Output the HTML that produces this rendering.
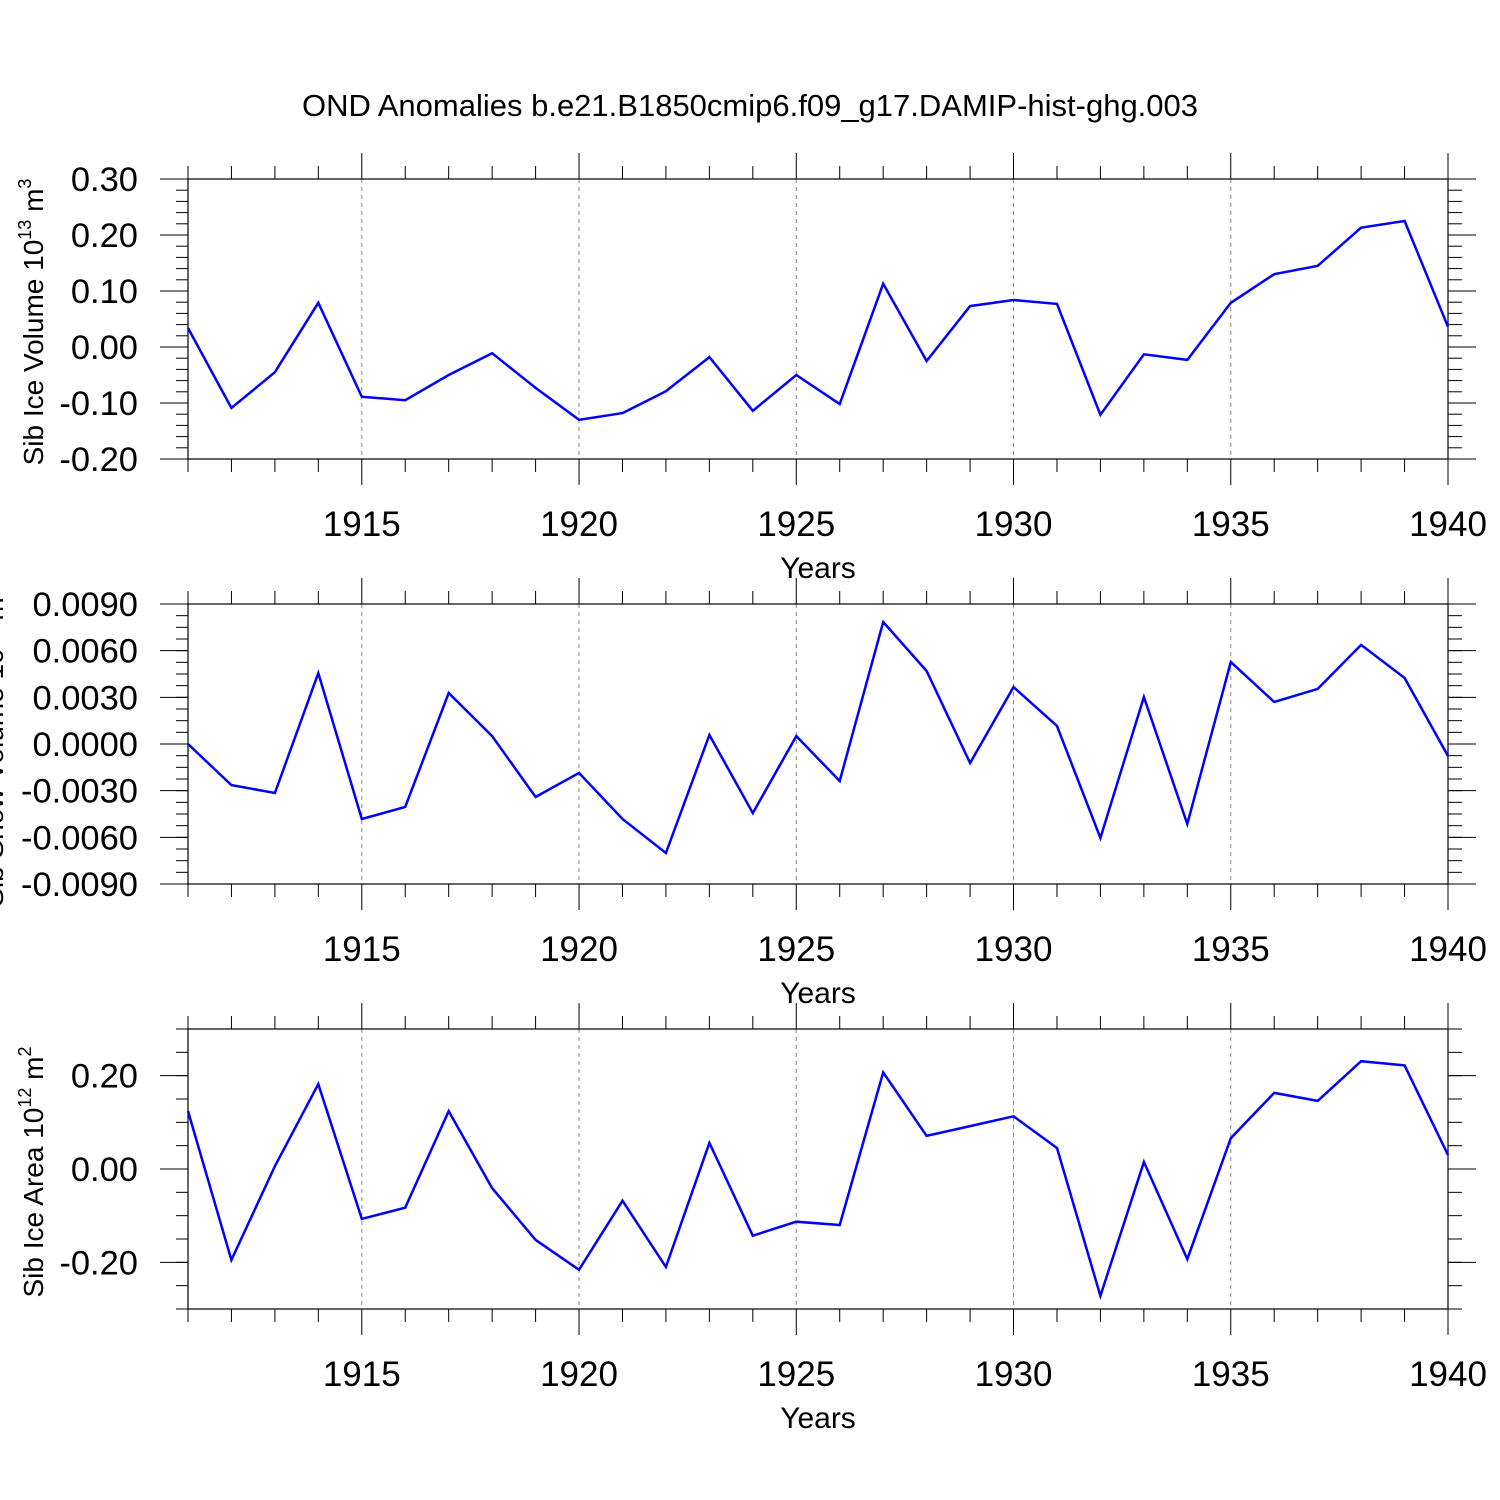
<!DOCTYPE html>
<html><head><meta charset="utf-8"><style>
html,body{margin:0;padding:0;background:#fff;}
svg{display:block;font-family:"Liberation Sans",Arial,sans-serif;}
</style></head><body>
<svg id="chart" width="1500" height="1500" viewBox="0 0 1500 1500" xmlns="http://www.w3.org/2000/svg">
<text x="750" y="116" text-anchor="middle" font-size="31">OND Anomalies b.e21.B1850cmip6.f09_g17.DAMIP-hist-ghg.003</text>
</svg>
<script>
const years = [1911,1912,1913,1914,1915,1916,1917,1918,1919,1920,1921,1922,1923,1924,1925,1926,1927,1928,1929,1930,1931,1932,1933,1934,1935,1936,1937,1938,1939,1940];
const iceVolume = [0.034,-0.109,-0.045,0.079,-0.089,-0.095,-0.05,-0.011,-0.073,-0.13,-0.118,-0.079,-0.018,-0.114,-0.05,-0.102,0.113,-0.025,0.073,0.084,0.077,-0.121,-0.013,-0.023,0.079,0.13,0.145,0.213,0.225,0.036];
const snowVolume = [0,-0.00264,-0.00315,0.00456,-0.00482,-0.00405,0.00328,0.00051,-0.00341,-0.00186,-0.00482,-0.00701,0.00058,-0.00444,0.00051,-0.00238,0.00784,0.00469,-0.00122,0.00366,0.00116,-0.00604,0.00302,-0.00514,0.00527,0.0027,0.00354,0.00637,0.00424,-0.00077];
const iceArea = [0.124,-0.195,0.006,0.182,-0.107,-0.083,0.124,-0.041,-0.152,-0.216,-0.068,-0.21,0.056,-0.143,-0.113,-0.12,0.207,0.071,0.092,0.113,0.045,-0.272,0.015,-0.193,0.066,0.163,0.146,0.231,0.222,0.03];
const xTickLabels = [1915,1920,1925,1930,1935,1940];
const yTicks1 = [0.30,0.20,0.10,0.00,-0.10,-0.20];
const yTicks2 = [0.009,0.006,0.003,0,-0.003,-0.006,-0.009];
const yTicks3 = [0.20,0.00,-0.20];

const svg = document.getElementById('chart');
const NS = 'http://www.w3.org/2000/svg';
function mk(tag, attrs, parent){const e=document.createElementNS(NS,tag);for(const k in attrs)e.setAttribute(k,attrs[k]);(parent||svg).appendChild(e);return e;}
const X0=188,X1=1448;
function xs(yr){return X0+(yr-1911)/(1940-1911)*(X1-X0);}

function panel(idx, top, ymin, ymax, data, yticks, minorStep, fmt, labelHTML, labelX, name){
  const bot=top+280;
  const g=mk('g',{});
  
  
  const ys=v=>bot-(v-ymin)/(ymax-ymin)*280;
  xTickLabels.forEach(yr=>{ if(yr<1940) mk('line',{x1:xs(yr),x2:xs(yr),y1:top,y2:bot,stroke:'#888','stroke-width':1,'stroke-dasharray':'4,4'},g);});
  years.forEach(yr=>{
    const x=xs(yr), maj=(yr%5===0);
    const L=maj?26:13;
    mk('line',{x1:x,x2:x,y1:top-L,y2:top,stroke:'#000','stroke-width':1},g);
    mk('line',{x1:x,x2:x,y1:bot,y2:bot+L,stroke:'#000','stroke-width':1},g);
  });
  const n=Math.round((ymax-ymin)/minorStep);
  for(let i=0;i<=n;i++){const y=ys(ymin+i*minorStep);
    mk('line',{x1:X0-12,x2:X0,y1:y,y2:y,stroke:'#000','stroke-width':1},g);
    mk('line',{x1:X1,x2:X1+14,y1:y,y2:y,stroke:'#000','stroke-width':1},g);}
  yticks.forEach(v=>{const y=ys(v);
    mk('line',{x1:X0-28,x2:X0,y1:y,y2:y,stroke:'#000','stroke-width':1},g);
    mk('line',{x1:X1,x2:X1+28,y1:y,y2:y,stroke:'#000','stroke-width':1},g);
    const t=mk('text',{x:138,y:y+12,'text-anchor':'end','font-size':34.5},g);
    
    
    t.textContent=fmt(v);});
  mk('rect',{x:X0,y:top,width:X1-X0,height:280,fill:'none',stroke:'#000','stroke-width':1.2},g);
  xTickLabels.forEach(yr=>{const t=mk('text',{x:xs(yr),y:bot+77,'text-anchor':'middle','font-size':35},g);
    
    
    t.textContent=yr;});
  const xt=mk('text',{x:818,y:bot+119,'text-anchor':'middle','font-size':30},g);
  
  
  xt.textContent='Years';
  const yt=mk('text',{transform:`translate(${labelX},${top+143}) rotate(-90)`,'text-anchor':'middle','font-size':28},g);
  
  
  yt.innerHTML=labelHTML;
  const pts=data.map((v,i)=>xs(years[i]).toFixed(1)+','+ys(v).toFixed(1)).join(' ');
  const pl=mk('polyline',{points:pts,fill:'none',stroke:'#0000ff','stroke-width':2.5,'stroke-linejoin':'miter'},g);
  
  
}
panel(1,179,-0.2,0.3,iceVolume,yTicks1,0.02,v=>v.toFixed(2),'Sib Ice Volume 10<tspan font-size="18" dy="-12">13</tspan><tspan dy="12"> m</tspan><tspan font-size="18" dy="-12">3</tspan>',43,'ice-volume');
panel(2,604,-0.009,0.009,snowVolume,yTicks2,0.00075,v=>v.toFixed(4),'Sib Snow Volume 10<tspan font-size="18" dy="-12">13</tspan><tspan dy="12"> m</tspan><tspan font-size="18" dy="-12">3</tspan>',3,'snow-volume');
panel(3,1029,-0.3,0.3,iceArea,yTicks3,0.05,v=>v.toFixed(2),'Sib Ice Area 10<tspan font-size="18" dy="-12">12</tspan><tspan dy="12"> m</tspan><tspan font-size="18" dy="-12">2</tspan>',43,'ice-area');
</script>
</body></html>
